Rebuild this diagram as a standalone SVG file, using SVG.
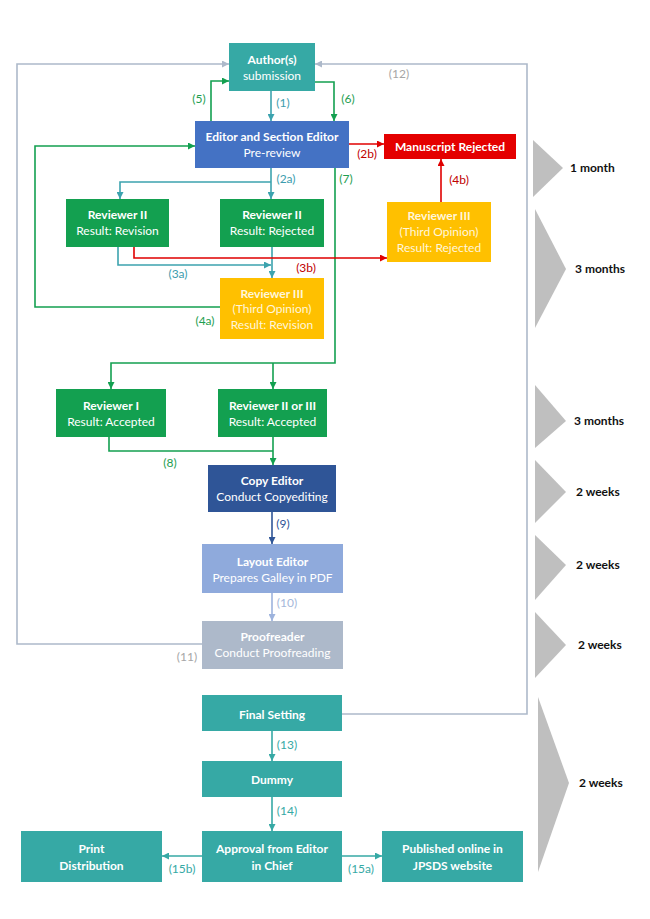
<svg xmlns="http://www.w3.org/2000/svg" width="650" height="919" viewBox="0 0 650 919">
<style>
text{font-family:Lato,"Open Sans","Liberation Sans",sans-serif;font-size:12px}
.t{text-anchor:middle;fill:#ffffff}
.b{font-weight:bold}
.lt{fill:#fff6dc}
.lbl{font-size:11.5px}
.dur{font-weight:bold;fill:#111111;font-size:12px}
.c{fill:none;stroke-width:1.6}
.teal{stroke:#3CA3AE}
.green{stroke:#13A050}
.red{stroke:#E00000}
.grey{stroke:#ADB9CA}
.navy{stroke:#2F5597}
.lblue{stroke:#9DB3DD}
.tq{stroke:#36A9A5}
</style>
<defs>
<marker id="aT" markerUnits="userSpaceOnUse" markerWidth="7" markerHeight="7" refX="7" refY="3.5" orient="auto"><path d="M0,0L7,3.5L0,7z" fill="#3CA3AE"/></marker>
<marker id="aG" markerUnits="userSpaceOnUse" markerWidth="7" markerHeight="7" refX="7" refY="3.5" orient="auto"><path d="M0,0L7,3.5L0,7z" fill="#13A050"/></marker>
<marker id="aR" markerUnits="userSpaceOnUse" markerWidth="7" markerHeight="7" refX="7" refY="3.5" orient="auto"><path d="M0,0L7,3.5L0,7z" fill="#E00000"/></marker>
<marker id="aY" markerUnits="userSpaceOnUse" markerWidth="7" markerHeight="7" refX="7" refY="3.5" orient="auto"><path d="M0,0L7,3.5L0,7z" fill="#ADB9CA"/></marker>
<marker id="aN" markerUnits="userSpaceOnUse" markerWidth="7" markerHeight="7" refX="7" refY="3.5" orient="auto"><path d="M0,0L7,3.5L0,7z" fill="#2F5597"/></marker>
<marker id="aL" markerUnits="userSpaceOnUse" markerWidth="7" markerHeight="7" refX="7" refY="3.5" orient="auto"><path d="M0,0L7,3.5L0,7z" fill="#9DB3DD"/></marker>
<marker id="aQ" markerUnits="userSpaceOnUse" markerWidth="7" markerHeight="7" refX="7" refY="3.5" orient="auto"><path d="M0,0L7,3.5L0,7z" fill="#36A9A5"/></marker>
</defs>
<rect width="650" height="919" fill="#ffffff"/>

<g id="timeline" fill="#BFBFBF">
<polygon points="533,140 563,168 533,197"/>
<polygon points="535,209 566,269 535,328"/>
<polygon points="535,385 566,421 535,448"/>
<polygon points="535,460 566,492 535,523"/>
<polygon points="535,535 566,565 535,600"/>
<polygon points="535,612 566,645 535,678"/>
<polygon points="538,697 569,783 538,872"/>
</g>
<g id="durations">
<text class="dur" x="570" y="172">1 month</text>
<text class="dur" x="575" y="273">3 months</text>
<text class="dur" x="574" y="425">3 months</text>
<text class="dur" x="576" y="496">2 weeks</text>
<text class="dur" x="576" y="569">2 weeks</text>
<text class="dur" x="578" y="649">2 weeks</text>
<text class="dur" x="579" y="787">2 weeks</text>
</g>

<g id="connectors">
<path class="c grey" d="M342,714H527V64H315" marker-end="url(#aY)"/>
<path class="c grey" d="M202,644H17V64H229" marker-end="url(#aY)"/>
<path class="c teal" d="M271,91V121" marker-end="url(#aT)"/>
<path class="c green" d="M211,121V81H229" marker-end="url(#aG)"/>
<path class="c green" d="M315,82H334V121" marker-end="url(#aG)"/>
<path class="c red" d="M349,144H384" marker-end="url(#aR)"/>
<path class="c teal" d="M271,168V199" marker-end="url(#aT)"/>
<path class="c teal" d="M271,182H120V199" marker-end="url(#aT)"/>
<path class="c green" d="M335,168V363H111V389" marker-end="url(#aG)"/>
<path class="c green" d="M273,363V389" marker-end="url(#aG)"/>
<path class="c red" d="M441,202V159" marker-end="url(#aR)"/>
<path class="c teal" d="M118,247V265H271" marker-end="url(#aT)"/>
<path class="c teal" d="M272,247V278" marker-end="url(#aT)"/>
<path class="c red" d="M134,247V258H387" marker-end="url(#aR)"/>
<path class="c green" d="M220,307H35V146H195" marker-end="url(#aG)"/>
<path class="c green" d="M109,437V451H273"/>
<path class="c green" d="M273,437V465" marker-end="url(#aG)"/>
<path class="c navy" d="M272,512V544" marker-end="url(#aN)"/>
<path class="c lblue" d="M272,593V621" marker-end="url(#aL)"/>
<path class="c tq" d="M272,731V761" marker-end="url(#aQ)"/>
<path class="c tq" d="M272,797V831" marker-end="url(#aQ)"/>
<path class="c tq" d="M342,856H382" marker-end="url(#aQ)"/>
<path class="c tq" d="M202,856H162" marker-end="url(#aQ)"/>
</g>

<g id="labels" class="lbl">
<text x="283" y="107" fill="#3C9DAE" text-anchor="middle">(1)</text>
<text x="199" y="103" fill="#1E9E50" text-anchor="middle">(5)</text>
<text x="348" y="103" fill="#1E9E50" text-anchor="middle">(6)</text>
<text x="399" y="78" fill="#A6A6A6" text-anchor="middle">(12)</text>
<text x="367" y="158" fill="#C00000" text-anchor="middle">(2b)</text>
<text x="286" y="183" fill="#3C9DAE" text-anchor="middle">(2a)</text>
<text x="346" y="183" fill="#1E9E50" text-anchor="middle">(7)</text>
<text x="459" y="184" fill="#C00000" text-anchor="middle">(4b)</text>
<text x="178" y="278" fill="#3C9DAE" text-anchor="middle">(3a)</text>
<text x="306" y="272" fill="#C00000" text-anchor="middle">(3b)</text>
<text x="205" y="325" fill="#1E9E50" text-anchor="middle">(4a)</text>
<text x="170" y="467" fill="#1E9E50" text-anchor="middle">(8)</text>
<text x="283" y="528" fill="#2F5597" text-anchor="middle">(9)</text>
<text x="287" y="607" fill="#A5B8DA" text-anchor="middle">(10)</text>
<text x="187" y="661" fill="#A6A6A6" text-anchor="middle">(11)</text>
<text x="287" y="749" fill="#36A9A5" text-anchor="middle">(13)</text>
<text x="287" y="815" fill="#36A9A5" text-anchor="middle">(14)</text>
<text x="361" y="873" fill="#36A9A5" text-anchor="middle">(15a)</text>
<text x="182" y="873" fill="#36A9A5" text-anchor="middle">(15b)</text>
</g>

<g id="author">
<rect x="229" y="43" width="86" height="48" fill="#36A9A5"/>
<text class="t b" x="272" y="64">Author(s)</text>
<text class="t" x="272" y="80">submission</text>
</g>
<g id="editor">
<rect x="195" y="121" width="154" height="47" fill="#4472C4"/>
<text class="t b" x="272" y="141">Editor and Section Editor</text>
<text class="t" x="272" y="157">Pre-review</text>
</g>
<g id="rejected">
<rect x="384" y="134" width="132" height="25" fill="#E40000"/>
<text class="t b" x="450" y="151">Manuscript Rejected</text>
</g>
<g id="rev2-revision">
<rect x="66" y="199" width="103" height="48" fill="#13A050"/>
<text class="t b" x="117.5" y="219">Reviewer II</text>
<text class="t" x="117.5" y="235">Result: Revision</text>
</g>
<g id="rev2-rejected">
<rect x="220" y="199" width="104" height="48" fill="#13A050"/>
<text class="t b" x="272" y="219">Reviewer II</text>
<text class="t" x="272" y="235">Result: Rejected</text>
</g>
<g id="rev3-rejected">
<rect x="387" y="202" width="104" height="60" fill="#FFC000"/>
<text class="t b lt" x="439" y="220">Reviewer III</text>
<text class="t lt" x="439" y="236">(Third Opinion)</text>
<text class="t lt" x="439" y="252">Result: Rejected</text>
</g>
<g id="rev3-revision">
<rect x="220" y="278" width="104" height="61" fill="#FFC000"/>
<text class="t b lt" x="272" y="298">Reviewer III</text>
<text class="t lt" x="272" y="313">(Third Opinion)</text>
<text class="t lt" x="272" y="329">Result: Revision</text>
</g>
<g id="rev1-accepted">
<rect x="56" y="389" width="110" height="48" fill="#13A050"/>
<text class="t b" x="111" y="410">Reviewer I</text>
<text class="t" x="111" y="426">Result: Accepted</text>
</g>
<g id="rev23-accepted">
<rect x="218" y="389" width="109" height="48" fill="#13A050"/>
<text class="t b" x="272.5" y="410">Reviewer II or III</text>
<text class="t" x="272.5" y="426">Result: Accepted</text>
</g>
<g id="copy-editor">
<rect x="208" y="465" width="128" height="47" fill="#2F5597"/>
<text class="t b" x="272" y="485">Copy Editor</text>
<text class="t" x="272" y="501">Conduct Copyediting</text>
</g>
<g id="layout-editor">
<rect x="202" y="544" width="141" height="49" fill="#8FAADC"/>
<text class="t b" x="272.5" y="566">Layout Editor</text>
<text class="t" x="272.5" y="582">Prepares Galley in PDF</text>
</g>
<g id="proofreader">
<rect x="202" y="621" width="141" height="48" fill="#ADB9CA"/>
<text class="t b" x="272.5" y="641">Proofreader</text>
<text class="t" x="272.5" y="657">Conduct Proofreading</text>
</g>
<g id="final-setting">
<rect x="202" y="695" width="140" height="36" fill="#36A9A5"/>
<text class="t b" x="272" y="719">Final Setting</text>
</g>
<g id="dummy">
<rect x="202" y="761" width="140" height="36" fill="#36A9A5"/>
<text class="t b" x="272" y="784">Dummy</text>
</g>
<g id="approval">
<rect x="202" y="831" width="140" height="51" fill="#36A9A5"/>
<text class="t b" x="272" y="853">Approval from Editor</text>
<text class="t b" x="272" y="870">in Chief</text>
</g>
<g id="print">
<rect x="21" y="831" width="141" height="51" fill="#36A9A5"/>
<text class="t b" x="91.5" y="853">Print</text>
<text class="t b" x="91.5" y="870">Distribution</text>
</g>
<g id="published">
<rect x="382" y="831" width="141" height="51" fill="#36A9A5"/>
<text class="t b" x="452.5" y="853">Published online in</text>
<text class="t b" x="452.5" y="870">JPSDS website</text>
</g>
</svg>
